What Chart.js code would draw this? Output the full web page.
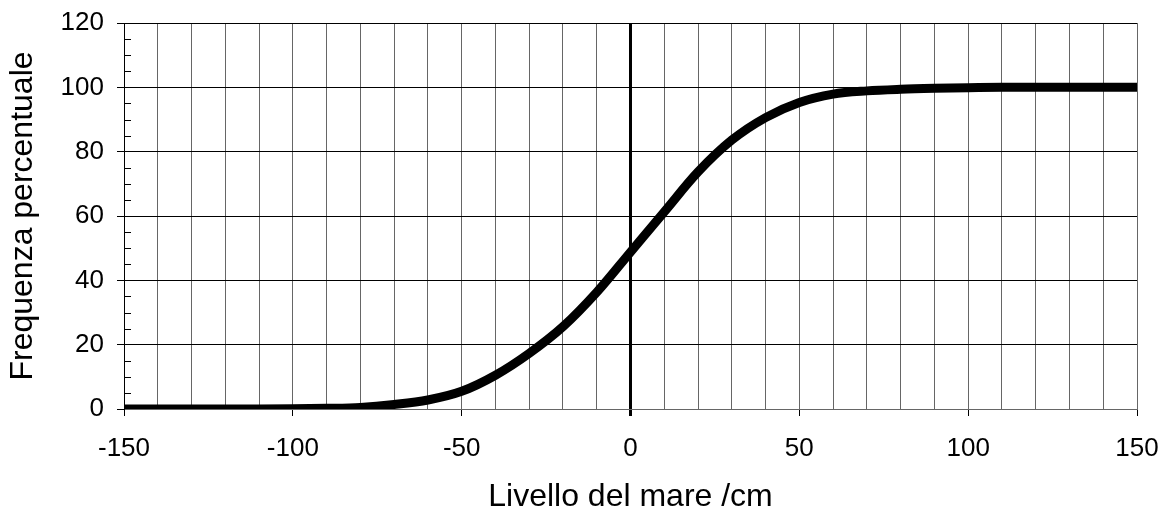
<!DOCTYPE html>
<html>
<head>
<meta charset="utf-8">
<script src="https://cdn.jsdelivr.net/npm/chart.js@4"></script>
<style>
  html, body { margin: 0; padding: 0; background: #fff; }
  #box { width: 1167px; height: 513px; }
</style>
</head>
<body>
<div id="box"><canvas id="graph-box"></canvas></div>
<script>
// livello del mare (cm) e frequenza cumulata (%)
const livelli = [-150, -140, -130, -120, -110, -100, -90, -80, -70, -60, -50, -40, -30, -20, -10,
    0, 10, 20, 30, 40, 50, 60, 70, 80, 90, 100, 110, 120, 130, 140, 150];
const frequenze = [0, 0, 0, 0, 0, 0.05, 0.2, 0.5, 1.4, 2.8, 5.5, 10.5, 17.3, 25.6, 36.3,
    48.8, 61.3, 73.7, 83.6, 90.6, 95.3, 97.9, 98.9, 99.4, 99.7, 99.9, 100, 100, 100, 100, 100];
const xTicks = [-150, -100, -50, 0, 50, 100, 150];
const yTicks = [0, 20, 40, 60, 80, 100, 120];

const tickFont = { family: 'Liberation Sans, Arial, sans-serif', size: 26 };
const titleFont = { family: 'Liberation Sans, Arial, sans-serif', size: 32 };

// piccole tacche interne sull'asse y ogni 5
const tacche = {
    id: 'tacche',
    afterDatasetsDraw(chart) {
        const y = chart.scales.y;
        const c = chart.ctx;
        const left = chart.chartArea.left;
        c.save();
        c.strokeStyle = '#000';
        c.lineWidth = 1;
        for (let v = 0; v <= 120; v += 5) {
            if (v % 20 === 0) continue;
            const py = Math.round(y.getPixelForValue(v)) + 0.5;
            c.beginPath();
            c.moveTo(left, py);
            c.lineTo(left + 7, py);
            c.stroke();
        }
        c.restore();
    }
};

const ctx = document.getElementById('graph-box');

new Chart(ctx, {
    type: 'line',
    data: {
        datasets: [{
            data: livelli.map((x, i) => ({ x: x, y: frequenze[i] })),
            borderColor: '#000',
            borderWidth: 9,
            borderCapStyle: 'round',
            borderJoinStyle: 'round',
            pointRadius: 0,
            cubicInterpolationMode: 'monotone',
            fill: false
        }]
    },
    options: {
        responsive: true,
        maintainAspectRatio: false,
        animation: false,
        layout: { padding: { top: 23, right: 30, left: 0, bottom: 0 } },
        plugins: {
            legend: { display: false },
            tooltip: { enabled: false }
        },
        scales: {
            x: {
                type: 'linear',
                min: -150,
                max: 150,
                afterFit: s => {
                    s.height = 104;
                    s.paddingLeft = 0;
                    s.paddingRight = 0;
                },
                ticks: {
                    stepSize: 10,
                    autoSkip: false,
                    maxRotation: 0,
                    color: '#000',
                    font: tickFont,
                    padding: 17,
                    callback: v => xTicks.includes(v) ? String(v) : ''
                },
                grid: {
                    color: c => c.tick && c.tick.value === 0 ? '#000' : '#666',
                    lineWidth: c => c.tick && c.tick.value === 0 ? 3 : 1,
                    tickColor: c => c.tick && c.tick.value % 50 === 0 ? '#000' : 'rgba(0,0,0,0)',
                    tickLength: 7
                },
                border: { color: '#666', width: 1 },
                title: {
                    display: true,
                    text: 'Livello del mare /cm',
                    color: '#000',
                    font: titleFont,
                    padding: { top: -3, bottom: -3 }
                }
            },
            y: {
                min: 0,
                max: 120,
                afterFit: s => {
                    s.width = 124;
                    s.paddingTop = 0;
                    s.paddingBottom = 0;
                },
                ticks: {
                    stepSize: 5,
                    autoSkip: false,
                    color: '#000',
                    font: tickFont,
                    padding: 13,
                    callback: v => yTicks.includes(v) ? String(v) : ''
                },
                grid: {
                    color: c => c.tick && c.tick.value % 20 === 0 ? '#000' : 'rgba(0,0,0,0)',
                    tickColor: c => c.tick && c.tick.value % 20 === 0 ? '#000' : 'rgba(0,0,0,0)',
                    lineWidth: 1,
                    tickLength: 7
                },
                border: { color: '#000', width: 1 },
                title: {
                    display: true,
                    text: 'Frequenza percentuale',
                    color: '#000',
                    font: titleFont,
                    padding: { top: 4, bottom: 4 }
                }
            }
        }
    },
    plugins: [tacche]
});
</script>
</body>
</html>
